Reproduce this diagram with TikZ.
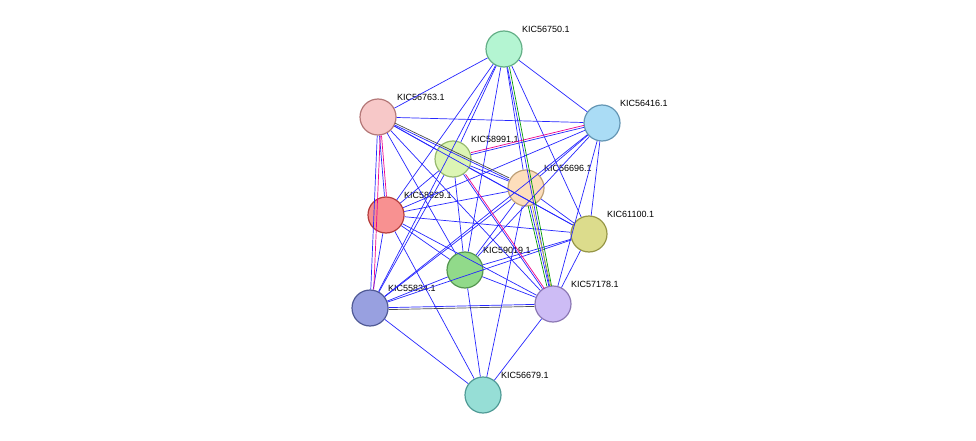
\documentclass[tikz,border=0pt]{standalone}
\usepackage{fontspec}
\setmainfont{Liberation Sans}
\usetikzlibrary{positioning}

\tikzset{
	protein/.style={circle, draw, line width=1.2pt, minimum size=36pt, inner sep=0pt},
	tag/.style={font=\fontsize{9}{9}\selectfont, inner sep=1pt, anchor=south west},
	link/.style={blue!85!white, line width=0.7pt},
}

\begin{document}
\begin{tikzpicture}[x=1pt, y=-1pt]
	\useasboundingbox (0,0) rectangle (976,441);

	% proteins
	\node[protein, fill={rgb,255:red,180;green,245;blue,210}, draw={rgb,255:red,100;green,175;blue,135}] (p750) at (504,49) {};
	\node[protein, fill={rgb,255:red,247;green,200;blue,200}, draw={rgb,255:red,180;green,120;blue,120}] (p763) at (378,117) {};
	\node[protein, fill={rgb,255:red,170;green,220;blue,245}, draw={rgb,255:red,100;green,150;blue,180}] (p416) at (602,123) {};
	\node[protein, fill={rgb,255:red,220;green,245;blue,180}, draw={rgb,255:red,150;green,185;blue,110}] (p991) at (453,159) {};
	\node[protein, fill={rgb,255:red,253;green,222;blue,188}, draw={rgb,255:red,190;green,160;blue,120}] (p696) at (526,188) {};
	\node[protein, fill={rgb,255:red,248;green,145;blue,145}, draw={rgb,255:red,180;green,60;blue,60}] (p829) at (386,215) {};
	\node[protein, fill={rgb,255:red,220;green,220;blue,140}, draw={rgb,255:red,150;green,150;blue,70}] (p100) at (589,234) {};
	\node[protein, fill={rgb,255:red,145;green,218;blue,138}, draw={rgb,255:red,85;green,150;blue,80}] (p019) at (465,270) {};
	\node[protein, fill={rgb,255:red,152;green,160;blue,224}, draw={rgb,255:red,80;green,90;blue,150}] (p834) at (370,308) {};
	\node[protein, fill={rgb,255:red,205;green,188;blue,245}, draw={rgb,255:red,140;green,120;blue,180}] (p178) at (553,304) {};
	\node[protein, fill={rgb,255:red,150;green,222;blue,214}, draw={rgb,255:red,80;green,155;blue,150}] (p679) at (483,395) {};

	% labels
	\node[tag] at (521,34) {KIC56750.1};
	\node[tag] at (396,102) {KIC56763.1};
	\node[tag] at (619,108) {KIC56416.1};
	\node[tag] at (470,144) {KIC58991.1};
	\node[tag] at (543,173) {KIC56696.1};
	\node[tag] at (403,200) {KIC58829.1};
	\node[tag] at (606,219) {KIC61100.1};
	\node[tag] at (482,255) {KIC59019.1};
	\node[tag] at (387,293) {KIC55834.1};
	\node[tag] at (570,289) {KIC57178.1};
	\node[tag] at (500,380) {KIC56679.1};

	% interactions
	\begin{scope}[on background layer/.try]
	\foreach \a/\b in {p750/p763, p750/p416, p750/p991, p750/p696, p750/p829, p750/p019, p750/p100, p750/p178, p750/p834,
		p763/p416, p763/p991, p763/p696, p763/p829, p763/p834, p763/p019, p763/p178, p763/p100,
		p416/p991, p416/p696, p416/p829, p416/p019, p416/p100, p416/p178, p416/p834,
		p991/p696, p991/p829, p991/p019, p991/p100, p991/p178, p991/p834,
		p696/p829, p696/p019, p696/p100, p696/p178, p696/p834, p696/p679,
		p829/p100, p829/p019, p829/p834, p829/p178, p829/p679,
		p100/p019, p100/p178, p100/p834,
		p019/p834, p019/p178, p019/p679,
		p834/p178, p834/p679, p178/p679}
		\draw[link] (\a) -- (\b);
	\draw[green!60!black, line width=0.7pt, transform canvas={xshift=2pt}] (p750) -- (p178);
	\draw[yellow!70!black, line width=0.7pt, transform canvas={xshift=2pt}] (p696) -- (p178);
	\draw[green!60!black, line width=0.7pt, transform canvas={xshift=-2pt}] (p696) -- (p178);
	\draw[magenta, line width=0.7pt, transform canvas={xshift=2pt}] (p763) -- (p829);
	\draw[magenta, line width=0.7pt, transform canvas={xshift=3pt}] (p763) -- (p834);
	\draw[magenta, line width=0.7pt, transform canvas={yshift=2pt}] (p991) -- (p416);
	\draw[magenta, line width=0.7pt, transform canvas={xshift=2pt}] (p991) -- (p178);
	\draw[black!70, line width=0.7pt, transform canvas={yshift=2pt}] (p763) -- (p696);
	\draw[black!70, line width=0.7pt, transform canvas={yshift=-2pt}] (p834) -- (p178);
	\end{scope}
\end{tikzpicture}
\end{document}
